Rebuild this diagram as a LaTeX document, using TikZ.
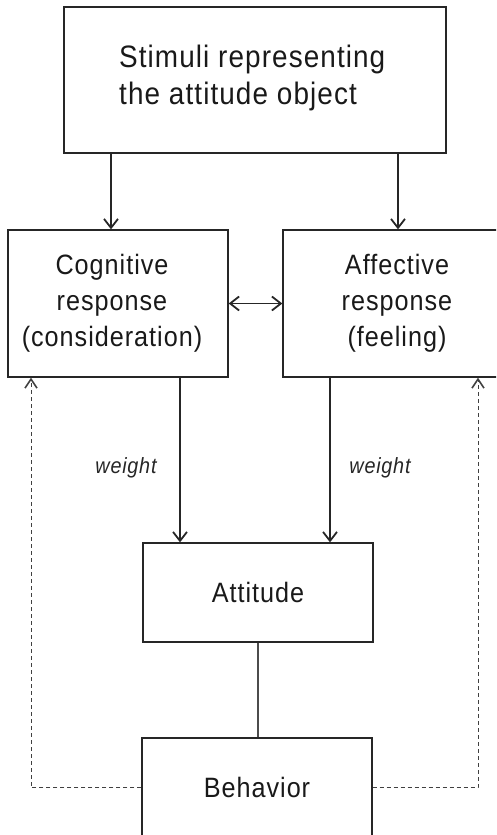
\documentclass[tikz,border=0pt]{standalone}
\usepackage{fontspec}
\setmainfont{Liberation Sans}[FakeStretch=0.9, LetterSpace=3.5]
\usetikzlibrary{arrows.meta}
\begin{document}
\begin{tikzpicture}[x=1pt,y=-1pt,
  tip/.tip={Straight Barb[length=9pt,width=14pt,line width=1.8pt]},
  dtip/.tip={Straight Barb[length=9pt,width=12pt,line width=1.6pt]},
  box/.style={draw=black!85, line width=1.3pt, inner sep=0pt, align=center, text=black!90},
  txt/.style={inner sep=0pt, align=center, text=black!90},
  conn/.style={draw=black!85, line width=1.1pt, -tip},
  biconn/.style={draw=black!85, line width=1.1pt, tip-tip},
  plain/.style={draw=black!70, line width=1.1pt},
  feedback/.style={draw=black!75, line width=0.9pt, dash pattern=on 4pt off 3pt, -dtip},
  big/.style={font=\fontsize{31}{37}\selectfont},
  mid/.style={font=\fontsize{28}{36}\selectfont},
  lbl/.style={font=\fontsize{22}{26}\selectfont\itshape, text=black!85}
]
\useasboundingbox (0,0) rectangle (496,835);
\clip (0,0) rectangle (496,835);

% boxes
\node[box, minimum width=382pt, minimum height=146pt] (stim) at (255,80) {};
\node[txt, big, align=left, anchor=north west] (stimtext) at (119,45)
  {Stimuli representing\\the attitude object};
\node[box, minimum width=220pt, minimum height=147pt] (cog) at (118,303.5) {};
\node[txt, mid] (cogtext) at (112,303) {Cognitive\\response\\(consideration)};
\node[box, minimum width=224pt, minimum height=147pt] (aff) at (395,303.5) {};
\node[txt, mid] (afftext) at (397,303) {Affective\\response\\(feeling)};
\node[box, mid, minimum width=230pt, minimum height=99pt] (att) at (258,592.5) {Attitude};
\node[box, mid, minimum width=230pt, minimum height=99pt] (beh) at (257,787.5) {Behavior};

% helper columns for vertical connectors
\coordinate (c1) at (111,0);
\coordinate (c2) at (398,0);
\coordinate (w1) at (180,0);
\coordinate (w2) at (330,0);
\coordinate (dl) at (31,0);
\coordinate (dr) at (478,0);

% stimuli feed both responses
\draw[conn] (stim.south -| c1) -- (c1 |- cog.north);
\draw[conn] (stim.south -| c2) -- (c2 |- aff.north);

% mutual influence of the responses
\draw[biconn] (cog.east) -- (aff.west);

% weighted paths into the attitude
\draw[conn] (cog.south -| w1) -- (w1 |- att.north);
\draw[conn] (aff.south -| w2) -- (w2 |- att.north);
\node[lbl] (wl) at (126,468) {weight};
\node[lbl] (wr) at (380,468) {weight};

% attitude to behavior
\draw[plain] (att.south) -- (att.south |- beh.north);

% feedback from behavior
\draw[feedback] (beh.west) -| (dl |- cog.south);
\draw[feedback] (beh.east) -| (dr |- aff.south);
\end{tikzpicture}
\end{document}
